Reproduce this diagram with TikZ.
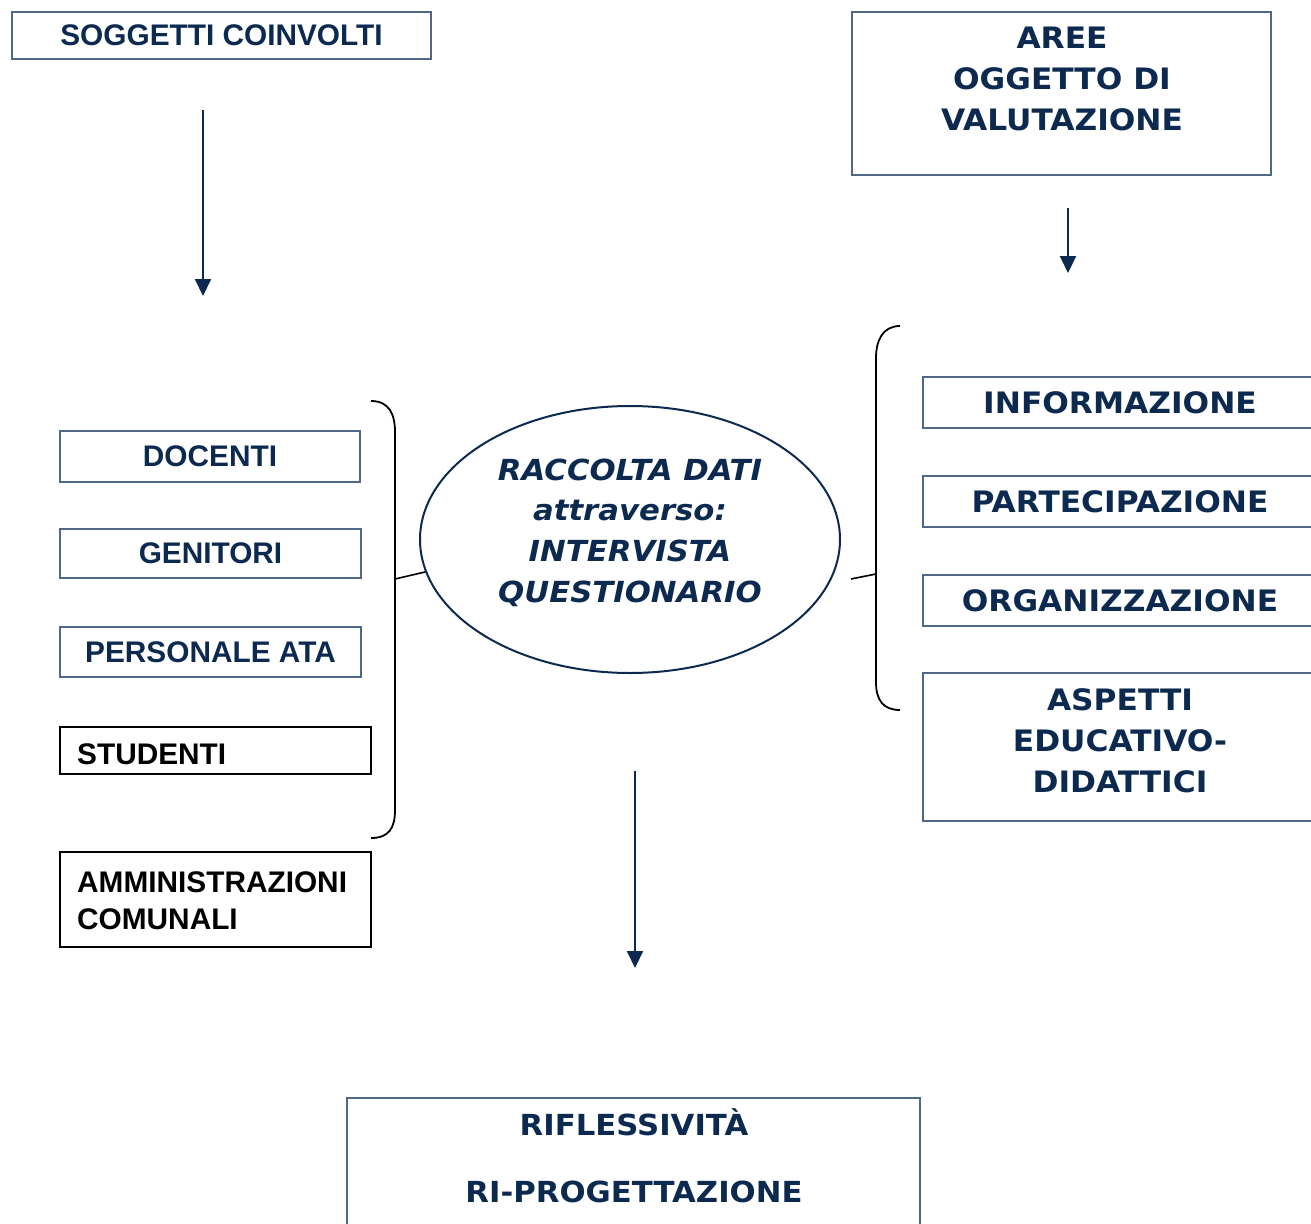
\documentclass[tikz,border=0pt]{standalone}
\usepackage{fontspec}
\setmainfont{Liberation Sans}
\newfontfamily\dvs[FakeStretch=1.06]{DejaVu Sans}
\usetikzlibrary{arrows.meta,shapes.geometric}
\definecolor{navy}{HTML}{0C2A4F}
\definecolor{boxline}{HTML}{4F6888}
\begin{document}
\begin{tikzpicture}[x=1pt,y=-1pt,
  bluebox/.style={draw=boxline,line width=1.3pt,inner sep=0pt,text=navy},
  blackbox/.style={draw=black,line width=1.8pt,inner sep=0pt},
  arialtxt/.style={font=\fontsize{29.8}{37}\selectfont\bfseries,inner sep=0pt},
  verdtxt/.style={font=\dvs\fontsize{29.5}{41}\selectfont\bfseries,inner sep=0pt,text=navy,align=center},
  ellitxt/.style={font=\dvs\fontsize{29}{40.7}\selectfont\bfseries\itshape,inner sep=0pt,text=navy,align=center},
  arr/.style={draw=navy,line width=2pt,-{Triangle[width=16pt,length=17pt]}},
  bracket/.style={draw=black,line width=1.8pt},
  tick/.style={draw=black,line width=1.6pt}
]
\clip (0,0) rectangle (1311,1223);
\fill[white] (0,0) rectangle (1311,1223);

% top boxes
\node[bluebox,arialtxt,text=navy,minimum width=419pt,minimum height=47pt] (sogg) at (221.5,35.5) {SOGGETTI COINVOLTI};
\node[bluebox,minimum width=419pt,minimum height=163pt] (aree) at (1061.5,93.5) {};
\node[verdtxt] (areetxt) at (1062,78.5) {AREE\\OGGETTO DI\\VALUTAZIONE};

% arrows
\coordinate (a1s) at (203,110); \coordinate (a1e) at (203,296);
\coordinate (a2s) at (1068,208); \coordinate (a2e) at (1068,273);
\coordinate (a3s) at (635,771); \coordinate (a3e) at (635,968);
\draw[arr] (a1s) -- (a1e);
\draw[arr] (a2s) -- (a2e);
\draw[arr] (a3s) -- (a3e);

% left boxes
\node[bluebox,arialtxt,text=navy,minimum width=300pt,minimum height=51pt] (doc) at (210,456.5) {DOCENTI};
\node[bluebox,arialtxt,text=navy,minimum width=301pt,minimum height=49pt] (gen) at (210.5,553.5) {GENITORI};
\node[bluebox,arialtxt,text=navy,minimum width=301pt,minimum height=50pt] (pers) at (210.5,652) {PERSONALE ATA};
\node[blackbox,minimum width=311pt,minimum height=47pt] (stud) at (215.5,750.5) {};
\node[arialtxt,anchor=base west] (studtxt) at (77,764) {STUDENTI};
\node[blackbox,minimum width=311pt,minimum height=95pt] (amm) at (215.5,899.5) {};
\node[arialtxt,anchor=west,align=left] (ammtxt) at (77,900.5) {AMMINISTRAZIONI\\COMUNALI};

% ellipse
\node[ellipse,draw=navy,line width=2pt,minimum width=420pt,minimum height=267pt,inner sep=0pt] (ell) at (630,539.5) {};
\node[ellitxt] (elltxt) at (630,532.5) {RACCOLTA DATI\\attraverso:\\INTERVISTA\\QUESTIONARIO};

% right boxes
\node[bluebox,verdtxt,minimum width=394pt,minimum height=51pt] (info) at (1120,402.5) {INFORMAZIONE};
\node[bluebox,verdtxt,minimum width=394pt,minimum height=51pt] (part) at (1120,501.5) {PARTECIPAZIONE};
\node[bluebox,verdtxt,minimum width=394pt,minimum height=51pt] (org) at (1120,600.5) {ORGANIZZAZIONE};
\node[bluebox,minimum width=394pt,minimum height=148pt] (asp) at (1120,747) {};
\node[verdtxt] (asptxt) at (1120,740.8) {ASPETTI\\EDUCATIVO-\\DIDATTICI};

% brackets
\draw[bracket] (371,401) .. controls (389,401) and (395,414) .. (395,432) -- (395,810) .. controls (395,828) and (389,838) .. (371,838);
\coordinate (lbmid) at (395,579);
\draw[tick] (lbmid) -- (ell.189);
\draw[bracket] (900,326) .. controls (883,326) and (876,340) .. (876,358) -- (876,682) .. controls (876,700) and (883,710) .. (900,710);
\coordinate (rbmid) at (876,574);
\coordinate (rtick) at (851,579);
\draw[tick] (rtick) -- (rbmid);

% bottom box
\node[bluebox,minimum width=573pt,minimum height=140pt] (rifl) at (633.5,1168) {};
\node[font=\dvs\fontsize{29}{36}\selectfont\bfseries,text=navy,inner sep=0pt,anchor=base] (rifltxt) at (634,1135) {RIFLESSIVITÀ};
\node[font=\dvs\fontsize{29}{36}\selectfont\bfseries,text=navy,inner sep=0pt,anchor=base] (riprog) at (634,1202) {RI-PROGETTAZIONE};
\end{tikzpicture}
\end{document}
